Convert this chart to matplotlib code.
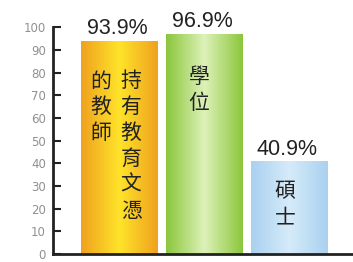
import matplotlib.pyplot as plt
import numpy as np
from matplotlib.colors import LinearSegmentedColormap

# data
categories = ["持有教育文憑的教師", "學位", "碩士"]
values = [93.9, 96.9, 40.9]
value_labels = ["93.9%", "96.9%", "40.9%"]
inner_text = [["持有教育文憑", "的教師"], ["學位"], ["碩士"]]
yticks = list(range(0, 101, 10))

edge_cols = ["#EFA21E", "#8CC63C", "#A9D1F0"]
mid_cols = ["#FFE32A", "#DDF2B8", "#D6EBF9"]

fig = plt.figure(figsize=(3.53, 2.62), dpi=100)
ax = fig.add_axes([0.150, 0.030, 0.847, 0.866])

x = np.arange(len(values))
width = 0.9
bars = ax.bar(x, values, width, color="none", edgecolor="none")

# gradient fill, darker at the edges, light in the middle
for bar, c0, c1 in zip(bars, edge_cols, mid_cols):
    cmap = LinearSegmentedColormap.from_list("g", [c0, c1, c0])
    grad = np.linspace(0, 1, 200).reshape(1, -1)
    im = ax.imshow(grad, cmap=cmap, aspect="auto",
                   extent=[bar.get_x(), bar.get_x() + bar.get_width(),
                           0, bar.get_height()], zorder=1)
    im.set_clip_path(bar)

# value labels above bars
for xi, v, lab in zip(x, values, value_labels):
    ax.text(xi - 0.02, v + 0.8, lab, ha="center", va="bottom",
            fontsize=15.5, family="Liberation Sans", color="#222222")

# vertical chinese text inside bars
cjk = ["Noto Sans CJK TC", "DejaVu Sans"]
col_offsets = {0: [0.14, -0.22], 1: [-0.06], 2: [-0.05]}
tops = [81, 83, 32.5]
step = 11.4
for i, cols in enumerate(inner_text):
    for off, txt in zip(col_offsets[i], cols):
        for k, ch in enumerate(txt):
            ax.text(x[i] + off, tops[i] - k * step, ch, ha="center",
                    va="top", fontsize=15, family=cjk, color="#222222")

ax.set_xlim(-0.78, 2.74)
ax.set_ylim(0, 100)
ax.set_yticks(yticks)
ax.set_yticklabels([str(t) for t in yticks], color="#909090",
                   fontsize=8.5, family="DejaVu Sans")
ax.tick_params(axis="y", direction="in", length=6, width=1.5,
               color="#222222", pad=5)
ax.set_xticks([])
for s in ["top", "right"]:
    ax.spines[s].set_visible(False)
for s in ["left", "bottom"]:
    ax.spines[s].set_linewidth(2)
    ax.spines[s].set_color("#222222")
ax.patch.set_alpha(0)

fig.savefig("out.png", dpi=100)
